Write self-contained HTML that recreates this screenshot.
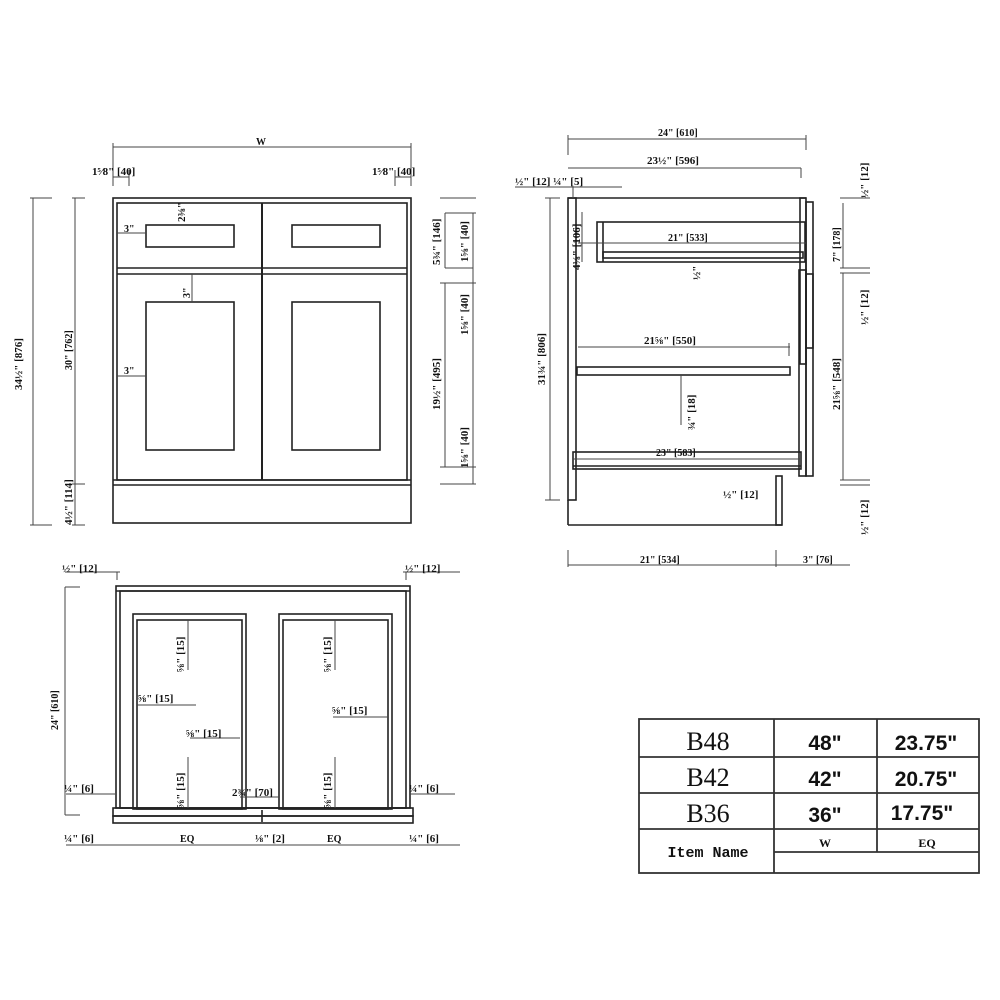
<!DOCTYPE html>
<html><head><meta charset="utf-8"><style>
html,body{margin:0;padding:0;background:#fff;}
svg{display:block;}
text{font-family:"Liberation Serif",serif;fill:#111;}
.t{font-size:11px;font-weight:bold;}
.s{font-size:10px;}
</style></head><body>
<svg width="1000" height="1000" viewBox="0 0 1000 1000" xmlns="http://www.w3.org/2000/svg">
<g fill="none" stroke="#222" stroke-width="1.6">
<!-- FRONT VIEW -->
<rect x="113" y="198" width="298" height="325"/>
<rect x="117" y="203" width="290" height="277"/>
<line x1="117" y1="268" x2="407" y2="268"/>
<line x1="117" y1="274" x2="407" y2="274"/>
<line x1="262" y1="203" x2="262" y2="480" stroke-width="2"/>
<line x1="113" y1="480" x2="411" y2="480"/>
<line x1="113" y1="485" x2="411" y2="485"/>
<rect x="146" y="225" width="88" height="22"/>
<rect x="292" y="225" width="88" height="22"/>
<rect x="146" y="302" width="88" height="148"/>
<rect x="292" y="302" width="88" height="148"/>
</g>
<g fill="none" stroke="#444" stroke-width="1">
<!-- front dims -->
<line x1="113" y1="147" x2="411" y2="147"/>
<line x1="113" y1="143" x2="113" y2="186"/><line x1="411" y1="143" x2="411" y2="186"/>
<line x1="113" y1="177" x2="129" y2="177"/><line x1="129" y1="170" x2="129" y2="186"/>
<line x1="395" y1="177" x2="411" y2="177"/><line x1="395" y1="170" x2="395" y2="186"/>
<line x1="33" y1="198" x2="33" y2="525"/><line x1="30" y1="198" x2="52" y2="198"/><line x1="30" y1="525" x2="52" y2="525"/>
<line x1="75" y1="198" x2="75" y2="525"/><line x1="72" y1="198" x2="85" y2="198"/><line x1="72" y1="484" x2="85" y2="484"/><line x1="72" y1="525" x2="85" y2="525"/>
<line x1="117" y1="233" x2="146" y2="233"/>
<line x1="117" y1="376" x2="146" y2="376"/>
<line x1="192" y1="274" x2="192" y2="302"/>
<line x1="440" y1="198" x2="476" y2="198"/>
<line x1="445" y1="213" x2="445" y2="268"/><line x1="445" y1="213" x2="476" y2="213"/>
<line x1="445" y1="268" x2="473" y2="268"/>
<line x1="473" y1="213" x2="473" y2="268"/>
<line x1="445" y1="283" x2="445" y2="467"/><line x1="440" y1="283" x2="476" y2="283"/>
<line x1="473" y1="268" x2="473" y2="484"/><line x1="440" y1="467" x2="476" y2="467"/>
<line x1="440" y1="484" x2="476" y2="484"/>
</g>
<g class="t">
<text x="256" y="145" class="s">W</text>
<text x="92" y="175">1⁵⁄8" [40]</text>
<text x="372" y="175">1⁵⁄8" [40]</text>
<text x="124" y="232" class="s">3"</text>
<text x="124" y="374" class="s">3"</text>
<text x="185" y="222" transform="rotate(-90 185 222)">2⅜"</text>
<text x="190" y="298" transform="rotate(-90 190 298)" class="s">3"</text>
<text x="22" y="390" transform="rotate(-90 22 390)">34½" [876]</text>
<text x="72" y="370" transform="rotate(-90 72 370)" class="s">30" [762]</text>
<text x="72" y="525" transform="rotate(-90 72 525)">4½" [114]</text>
<text x="440" y="265" transform="rotate(-90 440 265)">5¾" [146]</text>
<text x="468" y="262" transform="rotate(-90 468 262)">1⅝" [40]</text>
<text x="468" y="335" transform="rotate(-90 468 335)">1⅝" [40]</text>
<text x="440" y="410" transform="rotate(-90 440 410)">19½" [495]</text>
<text x="468" y="468" transform="rotate(-90 468 468)">1⅝" [40]</text>
</g>

<!-- SIDE VIEW -->
<g fill="none" stroke="#222" stroke-width="1.6">
<line x1="568" y1="198" x2="806" y2="198"/>
<rect x="568" y="198" width="8" height="302"/>
<line x1="568" y1="500" x2="568" y2="525"/>
<line x1="568" y1="525" x2="782" y2="525"/>
<rect x="776" y="476" width="6" height="49"/>
<rect x="800" y="198" width="6" height="166"/>
<rect x="806" y="202" width="7" height="146"/>
<rect x="799" y="270" width="7" height="206"/>
<rect x="806" y="274" width="7" height="202"/>
<rect x="597" y="222" width="208" height="40"/>
<line x1="603" y1="222" x2="603" y2="262"/>
<rect x="603" y="252" width="200" height="6"/>
<rect x="577" y="367" width="213" height="8"/>
<rect x="573" y="452" width="228" height="17"/>
<line x1="573" y1="466" x2="801" y2="466"/>
</g>
<g fill="none" stroke="#444" stroke-width="1">
<line x1="568" y1="139" x2="806" y2="139"/><line x1="568" y1="135" x2="568" y2="155"/><line x1="806" y1="135" x2="806" y2="150"/>
<line x1="568" y1="168" x2="801" y2="168"/><line x1="801" y1="168" x2="801" y2="178"/>
<line x1="515" y1="187" x2="622" y2="187"/><line x1="573" y1="187" x2="573" y2="198"/>
<line x1="545" y1="198" x2="560" y2="198"/><line x1="550" y1="198" x2="550" y2="500"/><line x1="545" y1="500" x2="560" y2="500"/>
<line x1="582" y1="212" x2="582" y2="262"/>
<line x1="578" y1="243" x2="806" y2="243"/>
<line x1="578" y1="347" x2="790" y2="347"/><line x1="789" y1="343" x2="789" y2="356"/>
<line x1="681" y1="375" x2="681" y2="425"/>
<line x1="573" y1="459" x2="800" y2="459"/>
<line x1="840" y1="198" x2="870" y2="198"/>
<line x1="843" y1="203" x2="843" y2="268"/><line x1="840" y1="268" x2="870" y2="268"/><line x1="840" y1="273" x2="870" y2="273"/>
<line x1="843" y1="273" x2="843" y2="480"/><line x1="840" y1="480" x2="870" y2="480"/><line x1="840" y1="485" x2="870" y2="485"/>
<line x1="568" y1="550" x2="568" y2="567"/><line x1="776" y1="550" x2="776" y2="567"/>
<line x1="568" y1="565" x2="850" y2="565"/>
</g>
<g class="t">
<text x="658" y="136" class="s">24" [610]</text>
<text x="647" y="164">23½" [596]</text>
<text x="515" y="185">½" [12] ¼" [5]</text>
<text x="668" y="241" class="s">21" [533]</text>
<text x="700" y="280" transform="rotate(-90 700 280)">½"</text>
<text x="580" y="270" transform="rotate(-90 580 270)">4⅛" [106]</text>
<text x="644" y="344">21⅝" [550]</text>
<text x="695" y="430" transform="rotate(-90 695 430)">¾" [18]</text>
<text x="656" y="456" class="s">23" [583]</text>
<text x="723" y="498">½" [12]</text>
<text x="545" y="385" transform="rotate(-90 545 385)">31¾" [806]</text>
<text x="868" y="198" transform="rotate(-90 868 198)">½" [12]</text>
<text x="840" y="262" transform="rotate(-90 840 262)" class="s">7" [178]</text>
<text x="868" y="325" transform="rotate(-90 868 325)">½" [12]</text>
<text x="840" y="410" transform="rotate(-90 840 410)">21⅝" [548]</text>
<text x="868" y="535" transform="rotate(-90 868 535)">½" [12]</text>
<text x="640" y="563" class="s">21" [534]</text>
<text x="803" y="563" class="s">3" [76]</text>
</g>

<!-- TOP VIEW -->
<g fill="none" stroke="#222" stroke-width="1.6">
<rect x="116" y="586" width="294" height="222"/>
<line x1="116" y1="591" x2="410" y2="591"/>
<rect x="120" y="591" width="286" height="217"/>
<rect x="133" y="614" width="113" height="195"/>
<rect x="137" y="620" width="105" height="189"/>
<rect x="279" y="614" width="113" height="195"/>
<rect x="283" y="620" width="105" height="189"/>
<rect x="113" y="808" width="300" height="8"/>
<line x1="262" y1="810" x2="262" y2="822"/>
<rect x="113" y="816" width="300" height="7"/>
</g>
<g fill="none" stroke="#444" stroke-width="1">
<line x1="65" y1="587" x2="80" y2="587"/><line x1="65" y1="587" x2="65" y2="815"/><line x1="65" y1="815" x2="80" y2="815"/>
<line x1="65" y1="572" x2="120" y2="572"/><line x1="117" y1="572" x2="117" y2="580"/>
<line x1="403" y1="572" x2="460" y2="572"/><line x1="406" y1="572" x2="406" y2="580"/>
<line x1="66" y1="794" x2="115" y2="794"/><line x1="410" y1="794" x2="455" y2="794"/>
<line x1="66" y1="845" x2="460" y2="845"/>
<line x1="137" y1="705" x2="196" y2="705"/>
<line x1="190" y1="738" x2="240" y2="738"/>
<line x1="333" y1="717" x2="388" y2="717"/>
<line x1="188" y1="620" x2="188" y2="670"/>
<line x1="188" y1="757" x2="188" y2="808"/>
<line x1="335" y1="620" x2="335" y2="670"/>
<line x1="335" y1="757" x2="335" y2="808"/>
<line x1="240" y1="797" x2="279" y2="797"/>
</g>
<g class="t">
<text x="62" y="572">½" [12]</text>
<text x="405" y="572">½" [12]</text>
<text x="58" y="730" transform="rotate(-90 58 730)" class="s">24" [610]</text>
<text x="64" y="792">¼" [6]</text>
<text x="409" y="792">¼" [6]</text>
<text x="64" y="842">¼" [6]</text>
<text x="409" y="842">¼" [6]</text>
<text x="180" y="842" class="s">EQ</text>
<text x="327" y="842" class="s">EQ</text>
<text x="255" y="842">⅛" [2]</text>
<text x="138" y="702">⅝" [15]</text>
<text x="186" y="737">⅝" [15]</text>
<text x="332" y="714">⅝" [15]</text>
<text x="232" y="796">2¾" [70]</text>
<text x="184" y="672" transform="rotate(-90 184 672)">⅝" [15]</text>
<text x="184" y="808" transform="rotate(-90 184 808)">⅝" [15]</text>
<text x="331" y="672" transform="rotate(-90 331 672)">⅝" [15]</text>
<text x="331" y="808" transform="rotate(-90 331 808)">⅝" [15]</text>
</g>

<!-- TABLE -->
<g fill="none" stroke="#333" stroke-width="1.8">
<rect x="639" y="719" width="340" height="154"/>
<line x1="639" y1="757" x2="979" y2="757"/>
<line x1="639" y1="793" x2="979" y2="793"/>
<line x1="639" y1="829" x2="979" y2="829"/>
<line x1="774" y1="852" x2="979" y2="852"/>
<line x1="774" y1="719" x2="774" y2="873"/>
<line x1="877" y1="719" x2="877" y2="852"/>
</g>
<g text-anchor="middle">
<text x="708" y="750" style="font-size:26px">B48</text>
<text x="708" y="786" style="font-size:26px">B42</text>
<text x="708" y="822" style="font-size:26px">B36</text>
<text x="708" y="857" style="font-size:15px;font-weight:bold;font-family:'Liberation Mono',monospace">Item Name</text>
<text x="825" y="750" style="font-family:'Liberation Sans',sans-serif;font-size:21px;font-weight:bold">48"</text>
<text x="825" y="786" style="font-family:'Liberation Sans',sans-serif;font-size:21px;font-weight:bold">42"</text>
<text x="825" y="822" style="font-family:'Liberation Sans',sans-serif;font-size:21px;font-weight:bold">36"</text>
<text x="926" y="750" style="font-family:'Liberation Sans',sans-serif;font-size:21px;font-weight:bold">23.75"</text>
<text x="926" y="786" style="font-family:'Liberation Sans',sans-serif;font-size:21px;font-weight:bold">20.75"</text>
<text x="922" y="820" style="font-family:'Liberation Sans',sans-serif;font-size:21px;font-weight:bold">17.75"</text>
<text x="825" y="847" style="font-size:12px;font-weight:bold">W</text>
<text x="927" y="847" style="font-size:12px;font-weight:bold">EQ</text>
</g>
</svg>
</body></html>
